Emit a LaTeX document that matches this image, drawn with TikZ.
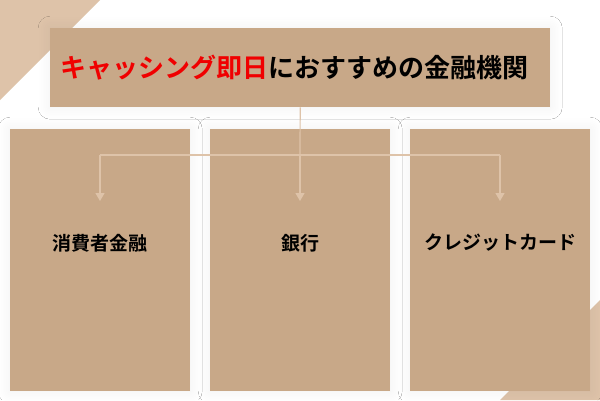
\documentclass[tikz,border=0pt]{standalone}
\usepackage{fontspec}
\newfontfamily\cjk{Noto Sans CJK JP}[BoldFont={Noto Sans CJK JP Bold}]
\usetikzlibrary{positioning,shadows.blur,arrows.meta}
\definecolor{tan}{HTML}{DEC3A9}
\definecolor{titlered}{HTML}{F00000}
\definecolor{warm}{HTML}{C8A888}
\tikzset{
  card/.style={fill=white,draw=none,blur shadow={shadow blur steps=15,shadow xshift=0pt,shadow yshift=0pt,shadow blur radius=12pt,shadow opacity=6,fill=warm}},
  link/.style={draw=tan,line width=1.2pt},
  label/.style={font=\cjk\bfseries\fontsize{19}{22}\selectfont}
}
\begin{document}
\begin{tikzpicture}[x=1pt,y=1pt]
\useasboundingbox (0,0) rectangle (600,400);
\fill[white] (0,0) rectangle (600,400);
% corner triangles
\fill[tan] (0,400) -- (100,400) -- (0,300) -- cycle;
\fill[tan] (600,100) -- (600,0) -- (500,0) -- cycle;
% cards
\node[card,minimum width=500pt,minimum height=79pt,anchor=north west] (title) at (50,372) {};
\node[card,minimum width=180pt,minimum height=262pt,anchor=north west] (left) at (10,271) {};
\node[card,minimum width=180pt,minimum height=262pt,anchor=north west] (mid) at (210,271) {};
\node[card,minimum width=180pt,minimum height=262pt,anchor=north west] (right) at (410,271) {};
\node[font=\cjk\bfseries\fontsize{26}{30}\selectfont] (titletext) at ([xshift=-6pt]title.center) {\textcolor{titlered}{キャッシング即日}におすすめの金融機関};
\node[label] (consumer) at (100,157) {消費者金融};
\node[label] (bank) at (300,157) {銀行};
\node[label] (card) at (500,157) {クレジットカード};
% connectors
\coordinate (split) at (300,245);
\coordinate (ltop) at (100,245);
\coordinate (rtop) at (500,245);
\coordinate (lend) at (100,199);
\coordinate (mend) at (300,199);
\coordinate (rend) at (500,199);
\draw[link] (title.south) -- (split);
\draw[link] (ltop) -- (rtop);
\foreach \a/\b in {ltop/lend,split/mend,rtop/rend}
  \draw[link,-{Triangle[width=9pt,length=8pt]}] (\a) -- (\b);
\end{tikzpicture}
\end{document}
